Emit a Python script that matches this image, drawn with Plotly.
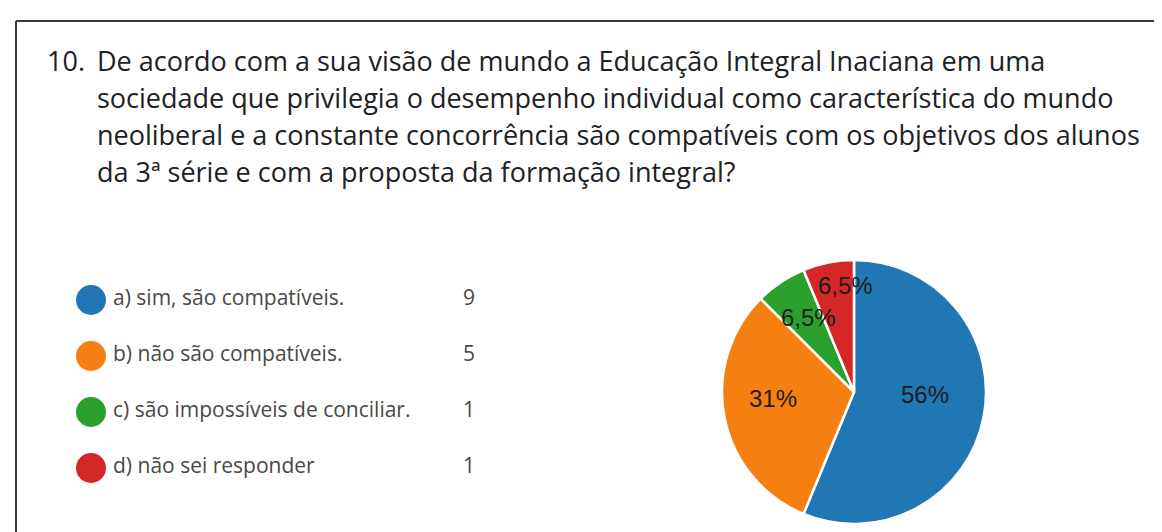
import math
import plotly.graph_objects as go

# ---- data ----
categories = ["a) sim, são compatíveis.", "b) não são compatíveis.",
              "c) são impossíveis de conciliar.", "d) não sei responder"]
counts = [9, 5, 1, 1]
pct_labels = ["56%", "31%", "6,5%", "6,5%"]
colors = ["#2077b4", "#f57f10", "#2ca02c", "#d62728"]
title_number = "10."
title_lines = [
    "De acordo com a sua visão de mundo a Educação Integral Inaciana em uma",
    "sociedade que privilegia o desempenho individual como característica do mundo",
    "neoliberal e a constante concorrência são compatíveis com os objetivos dos alunos",
    "da 3ª série e com a proposta da formação integral?",
]

# ---- layout / style constants ----
W, H = 1162, 532
PIE_CX, PIE_CY, PIE_R = 846, 384, 132
label_rfrac = [0.54, 0.615, 0.66, 0.81]     # radial placement of the % labels
label_dtheta = [-9, 7, 2.5, 6.5]            # angular nudge (deg) like the source chart

fig = go.Figure()

# pie
fig.add_trace(go.Pie(
    values=counts, labels=categories,
    textinfo="none", sort=False, direction="clockwise", rotation=0,
    marker=dict(colors=colors, line=dict(color="white", width=2.5)),
    domain=dict(x=[(PIE_CX - PIE_R) / W, (PIE_CX + PIE_R) / W],
                y=[(H - PIE_CY - PIE_R) / H, (H - PIE_CY + PIE_R) / H]),
    showlegend=False, hoverinfo="label+value",
))

# custom legend (circles, labels, counts)
leg_y0, leg_dy = 292, 56
leg_y = [leg_y0 + leg_dy * i for i in range(len(categories))]
fig.add_trace(go.Scatter(
    x=[83] * len(categories), y=leg_y, mode="markers",
    marker=dict(size=30, color=colors, line=dict(width=0)),
    showlegend=False, hoverinfo="skip",
))
fig.add_trace(go.Scatter(
    x=[105] * len(categories), y=leg_y, mode="text", text=categories,
    textposition="middle right",
    textfont=dict(family="Open Sans", size=21, color="#484848"),
    showlegend=False, hoverinfo="skip",
))
fig.add_trace(go.Scatter(
    x=[461] * len(categories), y=leg_y, mode="text", text=[str(c) for c in counts],
    textposition="middle center",
    textfont=dict(family="Open Sans", size=21, color="#484848"),
    showlegend=False, hoverinfo="skip",
))

annotations = []

# percentage labels placed along each slice's mid-angle (from the data)
total = sum(counts)
cum = 0
for v, txt, f, dt in zip(counts, pct_labels, label_rfrac, label_dtheta):
    mid = (cum + v / 2) / total * 360 + dt
    cum += v
    r = f * PIE_R
    annotations.append(dict(
        x=PIE_CX + r * math.sin(math.radians(mid)),
        y=PIE_CY - r * math.cos(math.radians(mid)),
        xref="x", yref="y", text=txt, showarrow=False,
        xanchor="center", yanchor="middle",
        font=dict(family="Liberation Sans, Arial", size=24, color="#1c1c1c"),
    ))

# title
title_font = dict(family="Open Sans", size=27, color="#202124")
annotations.append(dict(x=37, y=52, xref="x", yref="y", text=title_number, showarrow=False,
                        xanchor="left", yanchor="middle", font=title_font))
for i, line in enumerate(title_lines):
    annotations.append(dict(x=87, y=52 + 37 * i, xref="x", yref="y", text=line,
                            showarrow=False, xanchor="left", yanchor="middle",
                            font=title_font))

# frame lines
shapes = [
    dict(type="line", xref="x", yref="y", x0=8, x1=W, y0=13, y1=13,
         line=dict(color="#3a3a3a", width=2)),
    dict(type="line", xref="x", yref="y", x0=8, x1=8, y0=13, y1=H,
         line=dict(color="#3a3a3a", width=2)),
]

fig.update_layout(
    width=W, height=H, margin=dict(l=0, r=0, t=0, b=0),
    paper_bgcolor="white", plot_bgcolor="rgba(0,0,0,0)",
    xaxis=dict(range=[0, W], visible=False, fixedrange=True, domain=[0, 1]),
    yaxis=dict(range=[H, 0], visible=False, fixedrange=True, domain=[0, 1]),
    annotations=annotations, shapes=shapes,
)

fig.write_html("out.html")
